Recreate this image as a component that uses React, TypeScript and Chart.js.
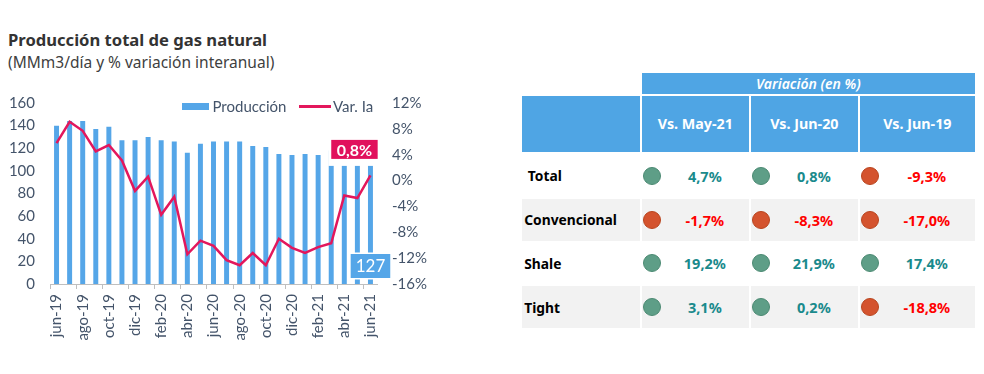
import React, { useEffect, useRef } from 'react';
import { Chart, registerables } from 'chart.js';

Chart.register(...registerables);

// ---------- Chart data ----------
const months = [
  'jun-19', 'jul-19', 'ago-19', 'sep-19', 'oct-19', 'nov-19', 'dic-19', 'ene-20', 'feb-20',
  'mar-20', 'abr-20', 'may-20', 'jun-20', 'jul-20', 'ago-20', 'sep-20', 'oct-20', 'nov-20',
  'dic-20', 'ene-21', 'feb-21', 'mar-21', 'abr-21', 'may-21', 'jun-21',
];
const production = [
  140, 144, 144, 137, 139, 127, 127, 130, 127, 126, 116, 124, 126, 126, 126, 122, 121, 115,
  114, 115, 114, 118, 121, 121, 127,
];
const variation = [
  5.8, 9.1, 7.7, 4.5, 5.5, 3.1, -1.6, 0.6, -5.3, -2.5, -11.4, -9.3, -10.1, -12.3, -13.1, -11.2,
  -13.1, -9.0, -10.4, -11.2, -10.3, -9.7, -2.3, -2.7, 0.8,
];
const leftAxis = { min: 0, max: 160, step: 20 };
const rightAxis = { min: -16, max: 12, step: 4 };

// ---------- Table data ----------
const tableTitle = 'Variación (en %)';
const tableColumns = ['Vs. May-21', 'Vs. Jun-20', 'Vs. Jun-19'];
const tableRows = [' Total', 'Convencional', 'Shale', 'Tight'];
const totalVar = [4.7, 0.8, -9.3];
const convencionalVar = [-1.7, -8.3, -17.0];
const shaleVar = [19.2, 21.9, 17.4];
const tightVar = [3.1, 0.2, -18.8];
const tableValues = [totalVar, convencionalVar, shaleVar, tightVar];

// ---------- Styles ----------
const AXIS_COLOR = '#44546A';
const BAR_COLOR = '#55A6E8';
const LINE_COLOR = '#E3175C';
const PINK_BOX = '#E1115D';
const HEAD_BLUE = '#4FA5E4';
const AXIS_FONT = 'Lato, "Noto Sans", sans-serif';
const TABLE_FONT = '"Noto Sans", "Open Sans", sans-serif';

const fmtPct = (v: number) => `${v.toFixed(1).replace('.', ',')}%`;

const labelPlugin = {
  id: 'lastLabels',
  afterDatasetsDraw(chart: any) {
    const ctx = chart.ctx;
    const lineMeta = chart.getDatasetMeta(0);
    const barMeta = chart.getDatasetMeta(1);
    const lastIdx = months.length - 1;

    // pink label for last variation point
    const pt = lineMeta.data[lastIdx];
    ctx.save();
    ctx.font = `bold 16px ${AXIS_FONT}`;
    const txt = fmtPct(variation[lastIdx]);
    const tw = ctx.measureText(txt).width;
    const bw = tw + 11;
    const bh = 19;
    const cx = pt.x - 16;
    const cy = pt.y - 26;
    ctx.fillStyle = '#FFFFFF';
    ctx.fillRect(cx - bw / 2 - 3, cy - bh / 2 - 1, bw + 5, bh + 8);
    ctx.fillStyle = PINK_BOX;
    ctx.fillRect(cx - bw / 2, cy - bh / 2, bw, bh);
    ctx.fillStyle = '#FFFFFF';
    ctx.textAlign = 'center';
    ctx.textBaseline = 'middle';
    ctx.fillText(txt, cx, cy + 1);

    // blue label for last production bar
    const bar = barMeta.data[lastIdx];
    const base = chart.scales.y.getPixelForValue(0);
    ctx.font = `17px ${AXIS_FONT}`;
    const t2 = String(production[lastIdx]);
    const w2 = ctx.measureText(t2).width + 10;
    const h2 = 24;
    const cx2 = bar.x;
    const cy2 = base - 6 - h2 / 2;
    ctx.fillStyle = '#FFFFFF';
    ctx.fillRect(cx2 - w2 / 2 - 1.5, cy2 - h2 / 2 - 1.5, w2 + 3, h2 + 3);
    ctx.fillStyle = BAR_COLOR;
    ctx.fillRect(cx2 - w2 / 2, cy2 - h2 / 2, w2, h2);
    ctx.fillStyle = '#FFFFFF';
    ctx.fillText(t2, cx2, cy2 + 1);
    ctx.restore();
  },
};

function ProductionChart() {
  const ref = useRef<HTMLCanvasElement | null>(null);
  useEffect(() => {
    if (!ref.current) return;
    const tickFont = { family: AXIS_FONT, size: 15 };
    const chart = new Chart(ref.current, {
      data: {
        labels: months,
        datasets: [
          {
            type: 'line',
            label: 'Var. Ia',
            data: variation,
            yAxisID: 'y1',
            borderColor: LINE_COLOR,
            borderWidth: 2.5,
            pointRadius: 0,
            tension: 0,
            order: 0,
          } as any,
          {
            type: 'bar',
            label: 'Producción',
            data: production,
            yAxisID: 'y',
            backgroundColor: BAR_COLOR,
            categoryPercentage: 1,
            barPercentage: 0.38,
            order: 1,
          } as any,
        ],
      },
      options: {
        responsive: false,
        animation: false,
        layout: { padding: { top: 15, left: 0, right: 0, bottom: 0 } },
        plugins: { legend: { display: false }, tooltip: { enabled: false } },
        scales: {
          x: {
            offset: true,
            grid: {
              offset: true,
              drawOnChartArea: false,
              drawTicks: true,
              tickLength: 5,
              color: (c: any) => (c.index % 2 === 0 ? '#BFBFBF' : 'rgba(0,0,0,0)'),
            },
            border: { display: true, color: '#BFBFBF' },
            ticks: {
              autoSkip: false,
              maxRotation: 90,
              minRotation: 90,
              padding: 5,
              color: AXIS_COLOR,
              font: tickFont,
              callback: (_v: any, i: number) => (i % 2 === 0 ? months[i] : ''),
            },
            afterFit: (s: any) => {
              s.height = 90;
            },
          },
          y: {
            position: 'left',
            min: leftAxis.min,
            max: leftAxis.max,
            grid: { display: false, drawTicks: false },
            border: { display: false },
            ticks: { stepSize: leftAxis.step, padding: 15, color: AXIS_COLOR, font: tickFont },
            afterFit: (s: any) => {
              s.width = 50;
              s.paddingTop = 0;
              s.paddingBottom = 0;
            },
          },
          y1: {
            position: 'right',
            min: rightAxis.min,
            max: rightAxis.max,
            grid: { display: false, drawTicks: false },
            border: { display: false },
            ticks: {
              stepSize: rightAxis.step,
              padding: 15,
              color: AXIS_COLOR,
              font: tickFont,
              callback: (v: any) => `${v}%`,
            },
            afterFit: (s: any) => {
              s.width = 68;
              s.paddingTop = 0;
              s.paddingBottom = 0;
            },
          },
        },
      } as any,
      plugins: [labelPlugin],
    });
    return () => chart.destroy();
  }, []);
  return (
    <canvas
      ref={ref}
      width={445}
      height={286}
      style={{ position: 'absolute', left: 0, top: 88, width: 445, height: 286 }}
    />
  );
}

const abs = (left: number, top: number, width: number, height: number): React.CSSProperties => ({
  position: 'absolute',
  left,
  top,
  width,
  height,
  boxSizing: 'border-box',
});

function VariationTable() {
  const labelCol = { left: 521.7, width: 118.3 };
  const cols = [
    { left: 642, width: 106.7 },
    { left: 750.7, width: 107.3 },
    { left: 860, width: 114.7 },
  ];
  const rowTop = (i: number) => 155 + i * 43.75;
  const rowH = 41.75;
  const cells: React.ReactNode[] = [];

  cells.push(
    <div
      key="title"
      style={{
        ...abs(642, 73, 332.7, 20.5),
        background: HEAD_BLUE,
        color: '#fff',
        fontStyle: 'italic',
        fontWeight: 600,
        fontSize: 14,
        display: 'flex',
        alignItems: 'center',
        justifyContent: 'center',
      }}
    >
      {tableTitle}
    </div>
  );
  cells.push(<div key="h0" style={{ ...abs(labelCol.left, 95.5, labelCol.width, 56), background: HEAD_BLUE }} />);
  tableColumns.forEach((c, j) => {
    cells.push(
      <div
        key={`h${j + 1}`}
        style={{
          ...abs(cols[j].left, 95.5, cols[j].width, 56),
          background: HEAD_BLUE,
          color: '#fff',
          fontWeight: 700,
          fontSize: 14.3,
          display: 'flex',
          alignItems: 'center',
          justifyContent: 'center',
        }}
      >
        {c}
      </div>
    );
  });

  tableRows.forEach((r, i) => {
    const bg = i % 2 === 1 ? '#F2F2F2' : '#FFFFFF';
    cells.push(
      <div
        key={`l${i}`}
        style={{
          ...abs(labelCol.left, rowTop(i), labelCol.width, rowH),
          background: bg,
          color: '#000',
          fontWeight: 700,
          fontSize: 13.8,
          display: 'flex',
          alignItems: 'center',
          paddingLeft: 2.5,
          whiteSpace: 'pre',
        }}
      >
        {r}
      </div>
    );
    tableValues[i].forEach((v, j) => {
      const pos = v >= 0;
      cells.push(
        <div key={`c${i}-${j}`} style={{ ...abs(cols[j].left, rowTop(i), cols[j].width, rowH), background: bg }}>
          <div
            style={{
              position: 'absolute',
              left: 1,
              top: rowH / 2 - 9,
              width: 18,
              height: 18,
              borderRadius: '50%',
              boxSizing: 'border-box',
              background: pos ? '#5E9E87' : '#D4532E',
              border: `1px solid ${pos ? '#4C8A73' : '#B9451F'}`,
            }}
          />
          <div
            style={{
              position: 'absolute',
              left: 19,
              right: 0,
              top: 0,
              bottom: 0,
              display: 'flex',
              alignItems: 'center',
              justifyContent: 'center',
              fontWeight: 700,
              fontSize: 14.5,
              color: pos ? '#1A8A8C' : '#FF0000',
            }}
          >
            {fmtPct(v)}
          </div>
        </div>
      );
    });
  });
  return <>{cells}</>;
}

export default function App() {
  return (
    <div
      style={{
        position: 'fixed',
        left: 0,
        top: 0,
        width: 984,
        height: 374,
        background: '#fff',
        overflow: 'hidden',
        fontFamily: TABLE_FONT,
      }}
    >
      <div style={{ position: 'absolute', left: 8, top: 30, fontSize: 16.6, fontWeight: 700, color: '#333333', lineHeight: '20px', whiteSpace: 'nowrap' }}>
        Producción total de gas natural
      </div>
      <div style={{ position: 'absolute', left: 8, top: 52, fontSize: 15.5, color: '#404040', lineHeight: '20px', whiteSpace: 'nowrap' }}>
        (MMm3/día y % variación interanual)
      </div>
      <ProductionChart />
      {/* legend */}
      <div style={{ position: 'absolute', left: 182, top: 103, width: 27, height: 6.5, background: BAR_COLOR }} />
      <div style={{ position: 'absolute', left: 212.5, top: 96, fontFamily: AXIS_FONT, fontSize: 15, color: AXIS_COLOR, lineHeight: '20px', whiteSpace: 'nowrap' }}>
        Producción
      </div>
      <div style={{ position: 'absolute', left: 299, top: 105, width: 32, height: 2.5, background: LINE_COLOR }} />
      <div style={{ position: 'absolute', left: 333, top: 96, fontFamily: AXIS_FONT, fontSize: 15, color: AXIS_COLOR, lineHeight: '20px', whiteSpace: 'nowrap' }}>
        Var. Ia
      </div>
      <VariationTable />
    </div>
  );
}
